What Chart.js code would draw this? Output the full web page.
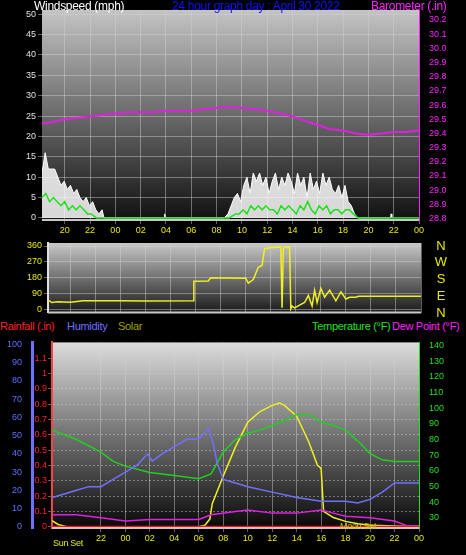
<!DOCTYPE html>
<html><head><meta charset="utf-8">
<script src="https://cdn.jsdelivr.net/npm/chart.js@4/dist/chart.umd.min.js"></script>
<style>
body{margin:0;background:#000;width:466px;height:555px;overflow:hidden;position:relative;font-family:"Liberation Sans",Arial,sans-serif}
canvas{position:absolute;left:0}
.t{position:absolute;font-size:12px;white-space:nowrap;line-height:12px;letter-spacing:-0.3px}
.b{font-size:11px}
.d{position:absolute;left:434px;color:#e8e800;font-size:13px;width:14px;text-align:center}
</style></head><body>
<canvas id="c1" style="top:0" width="466" height="235"></canvas>
<canvas id="c2" style="top:235px" width="466" height="85"></canvas>
<canvas id="c3" style="top:335px" width="466" height="220"></canvas>
<div class="t" style="left:34px;top:0;color:#fff">Windspeed (mph)</div>
<div class="t" style="left:172px;top:0;color:#1010ff">24 hour graph day : April 30 2022</div>
<div class="t" style="left:371px;top:0;color:#ff20ff">Barometer (.in)</div>
<div class="d" style="top:238px">N</div><div class="d" style="top:254px">W</div><div class="d" style="top:271px">S</div><div class="d" style="top:288px">E</div><div class="d" style="top:305px">N</div>
<div class="t b" style="left:0;top:320px;color:#ff2020">Rainfall (.in)</div>
<div class="t b" style="left:67px;top:320px;color:#7070ff">Humidity</div>
<div class="t b" style="left:118px;top:320px;color:#a0a000">Solar</div>
<div class="t b" style="left:312px;top:320px;color:#20e020">Temperature (°F)</div>
<div class="t b" style="left:392px;top:320px;color:#ff20ff">Dew Point (°F)</div>
<div class="t" style="left:53px;top:537px;color:#e8e800;font-size:9px">Sun Set</div>
<div class="t" style="left:340px;top:520px;color:#c8c800;font-size:9px">Moon Set</div>
<script>
// ---- data (hours since previous midnight) ----
const hourTicks=[20,22,24,26,28,30,32,34,36,38,40,42,44,46,48];
const baroHours=[18.2,19,20,21,22,23,24,25,26,27,28,29,30,31,32,33,34,35,36,37,38,39,40,41,42,43,44,45,46,47,48];
const baroValues=[29.47,29.48,29.5,29.51,29.52,29.53,29.54,29.55,29.55,29.55,29.56,29.56,29.56,29.57,29.58,29.59,29.58,29.57,29.56,29.54,29.52,29.49,29.46,29.43,29.42,29.4,29.39,29.4,29.41,29.41,29.42];
const gustHours=[18.2,18.45,18.7,18.95,19.2,19.45,19.7,19.95,20.2,20.45,20.7,20.95,21.2,21.45,21.7,21.95,22.2,22.45,22.7,22.95,23.1,23.2,27.85,27.9,27.95,32.6,32.9,33.15,33.4,33.65,33.9,34.15,34.4,34.65,34.9,35.15,35.4,35.65,35.9,36.15,36.4,36.65,36.9,37.15,37.4,37.65,37.9,38.15,38.4,38.65,38.9,39.15,39.4,39.65,39.9,40.15,40.4,40.65,40.9,41.15,41.4,41.65,41.9,42.15,42.4,42.65,42.9,43.15,43.3,45.75,45.8,45.85];
const gustValues=[11,16,12,12,12,10,8,9,7,8,6,7,5,4,5,3,4,2,1,2,0,0,0,1,0,0,1,3,5,6,4,8,10,6,11,9,11,8,10,6,9,11,7,10,8,11,9,6,11,8,10,5,11,7,9,6,11,8,10,7,6,8,5,8,4,3,1,0,0,0,1,0];
const windHours=[18.2,18.5,18.8,19.1,19.4,19.7,20,20.3,20.6,20.9,21.2,21.5,21.8,22.1,22.5,33.0,33.5,33.8,34.1,34.4,34.7,35,35.3,35.6,35.9,36.2,36.5,36.8,37.1,37.4,37.7,38,38.3,38.6,38.9,39.2,39.5,39.8,40.1,40.4,40.7,41,41.3,41.6,41.9,42.2,42.5,42.8,43.2,48];
const windValues=[5,6,4,5,4,3,4,2,3,2,3,2,1,1,0,0,1,1,2,1,3,2,3,2,3,2,2,1,3,2,3,2,1,3,2,4,2,1,3,2,3,1,2,2,1,2,2,1,0,0];
const dirHours=[18.2,18.5,19,20,21,24,26,29.8,29.85,31,31.2,34,34.2,34.6,35,35.3,35.5,36,36.8,36.9,37.0,37.1,37.3,37.5,37.6,37.7,37.9,38.3,38.7,39,39.3,39.5,39.7,40,40.3,40.7,41.2,41.6,42,42.3,42.8,43,48];
const dirValues=[55,40,45,42,50,50,48,50,160,162,180,178,150,170,240,250,345,350,355,10,340,355,350,355,5,20,10,25,40,80,20,110,40,120,70,110,50,100,60,70,70,75,75];
const humHours=[18,19,20,21,22,23,24,25,25.8,26.2,27,28,29,30,30.8,31.2,31.5,32,33,34,36,38,40,41,42,43,44,45,46,48];
const humValues=[16,18,20,22,22,26,30,34,40,36,40,44,48,48,54,45,35,26,24,22,19,16,14,14,14,13,15,19,24,24];
const tempHours=[18,20,22,23,24,26,28,30,31,32,33,34,35,36,37,38,39,40,41,42,43,44,45,46,48];
const tempValues=[86,80,72,66,63,59,57,55,58,72,80,84,86,89,92,96,96,91,89,86,79,71,67,66,66];
const dewHours=[18,20,22,24,26,28,30,31,33,34,36,38,40,41,42,44,46,47,48];
const dewValues=[32,32,30,28,29,29,29,32,34,35,33,33,35,33,31,30,28,25,25];
const solarHours=[18,18.5,19.2,30,30.5,30.9,31.1,32,33,34,35,36,36.6,37,38,39,39.7,40,40.2,41,42,43,44,46,48];
const solarValues=[40,15,0,0,10,50,150,330,520,680,750,790,805,790,720,550,400,380,100,60,35,20,10,5,0];
const rainHours=[18,48];
const rainValues=[0,0];
const baroTicks=[28.8,28.9,29,29.1,29.2,29.3,29.4,29.5,29.6,29.7,29.8,29.9,30,30.1,30.2];
const dirTicks=[0,90,180,270,360];

const zip=(h,v)=>h.map((x,i)=>({x,y:v[i]}));
const pad2=v=>String(v%24).padStart(2,'0');
const grid={color:'rgba(210,210,210,0.45)',borderDash:[1,2],drawTicks:true,tickLength:4};
const bgPlugin=(top,bot)=>({id:'bg',beforeDraw(c){const {ctx,chartArea:a}=c;ctx.save();
 const g=ctx.createLinearGradient(0,a.top,0,a.bottom);g.addColorStop(0,top);g.addColorStop(1,bot);
 ctx.fillStyle=g;ctx.fillRect(a.left,a.top,a.right-a.left,a.bottom-a.top);ctx.restore();},
 afterDraw(c){const {ctx,chartArea:a}=c;ctx.save();ctx.strokeStyle='#c8c8c8';ctx.lineWidth=2;ctx.beginPath();ctx.moveTo(a.left,a.bottom);ctx.lineTo(a.right,a.bottom);ctx.stroke();ctx.restore();}});
const fitW=w=>function(s){s.width=w;};
const fitH=h=>function(s){s.height=h;};
const font={family:'Liberation Sans',size:9};
Chart.defaults.animation=false;
Chart.defaults.plugins.legend.display=false;
Chart.defaults.plugins.tooltip.enabled=false;
Chart.defaults.elements.point.radius=0;

new Chart(document.getElementById('c1'),{type:'line',
 data:{datasets:[
  {data:zip(baroHours,baroValues),yAxisID:'yb',borderColor:'#e020e0',borderWidth:2},
  {data:zip(windHours,windValues),yAxisID:'y',borderColor:'#20e020',borderWidth:1.5},
  {data:zip(gustHours,gustValues),yAxisID:'y',borderColor:'#ffffff',borderWidth:1,fill:'origin',backgroundColor:'rgba(250,250,250,0.85)'}
 ]},
 options:{responsive:false,layout:{padding:{top:10,bottom:0,left:0,right:0}},
  scales:{
   x:{type:'linear',min:18.2,max:48,afterBuildTicks:s=>{s.ticks=hourTicks.map(v=>({value:v}));},afterFit:fitH(15),
      ticks:{color:'#e8e800',font,callback:pad2,maxRotation:0,padding:1},grid,border:{display:false}},
   y:{min:-0.5,max:51,afterBuildTicks:s=>{s.ticks=[0,5,10,15,20,25,30,35,40,45,50].map(v=>({value:v}));},afterFit:fitW(42),
      ticks:{color:'#e0e0e0',font,padding:2},grid,border:{display:false}},
   yb:{position:'right',min:28.79,max:30.27,afterBuildTicks:s=>{s.ticks=baroTicks.map(v=>({value:v}));},afterFit:fitW(47),
      ticks:{color:'#ff20ff',font,padding:2},grid:{display:false,drawTicks:true},border:{color:'#ff20ff'}}
  }},plugins:[bgPlugin('#c4c4c4','#101010')]});

new Chart(document.getElementById('c2'),{type:'line',
 data:{datasets:[{data:zip(dirHours,dirValues),borderColor:'#f0f020',borderWidth:1.5}]},
 options:{responsive:false,layout:{padding:{top:8,bottom:7,left:0,right:0}},
  scales:{
   x:{type:'linear',min:18.2,max:48,display:true,afterBuildTicks:s=>{s.ticks=hourTicks.map(v=>({value:v}));},afterFit:fitH(0),ticks:{display:false},grid:{...grid,drawTicks:false},border:{display:false}},
   y:{min:-17,max:377,afterBuildTicks:s=>{s.ticks=dirTicks.map(v=>({value:v}));},afterFit:fitW(48),
      ticks:{color:'#e8e800',font,padding:2},grid,border:{color:'#e0e0e0',width:2}},
   yr:{position:'right',display:true,afterFit:fitW(45),ticks:{display:false},grid:{display:false},border:{display:false}}
  }},plugins:[bgPlugin('#c8c8c8','#1a1a1a')]});

new Chart(document.getElementById('c3'),{type:'line',
 data:{datasets:[
  {data:zip(rainHours,rainValues),yAxisID:'yr',borderColor:'#ff1010',borderWidth:2},
  {data:zip(dewHours,dewValues),yAxisID:'yt',borderColor:'#e020e0',borderWidth:1.5},
  {data:zip(humHours,humValues),yAxisID:'yh',borderColor:'#7070ff',borderWidth:1.5},
  {data:zip(tempHours,tempValues),yAxisID:'yt',borderColor:'#20d020',borderWidth:1.5},
  {data:zip(solarHours,solarValues),yAxisID:'ys',borderColor:'#f0f020',borderWidth:1.5}
 ]},
 options:{responsive:false,layout:{padding:{top:5,bottom:0,left:0,right:0}},
  scales:{
   x:{type:'linear',min:18,max:48,afterBuildTicks:s=>{s.ticks=[22,24,26,28,30,32,34,36,38,40,42,44,46,48].map(v=>({value:v}));},afterFit:fitH(27),
      ticks:{color:'#e8e800',font,callback:pad2,maxRotation:0,padding:1},grid,border:{display:false}},
   yh:{position:'left',weight:1,min:-0.7,max:101.2,afterBuildTicks:s=>{s.ticks=[0,10,20,30,40,50,60,70,80,90,100].map(v=>({value:v}));},afterFit:fitW(32),
      ticks:{color:'#6070ff',font,padding:2},grid:{display:false,drawTicks:true},border:{color:'#7070ff',width:3}},
   yr:{position:'left',weight:0,min:-0.008,max:1.202,afterBuildTicks:s=>{s.ticks=[0,0.1,0.2,0.3,0.4,0.5,0.6,0.7,0.8,0.9,1,1.1].map(v=>({value:v}));},afterFit:fitW(20),
      ticks:{color:'#ff2020',font,padding:1,callback:v=>String(+v.toFixed(1))},grid:{...grid,color:'rgba(210,210,210,0.45)'},border:{color:'#ff4040',dash:[2,2],width:2}},
   yt:{position:'right',min:23.5,max:142,afterBuildTicks:s=>{s.ticks=[30,40,50,60,70,80,90,100,110,120,130,140].map(v=>({value:v}));},afterFit:fitW(47),
      ticks:{color:'#20e020',font,padding:2},grid:{display:false,drawTicks:true},border:{color:'#20e020'}},
   ys:{display:false,min:-8,max:1200}
  }},plugins:[bgPlugin('#dcdcdc','#080808')]});
</script></body></html>
